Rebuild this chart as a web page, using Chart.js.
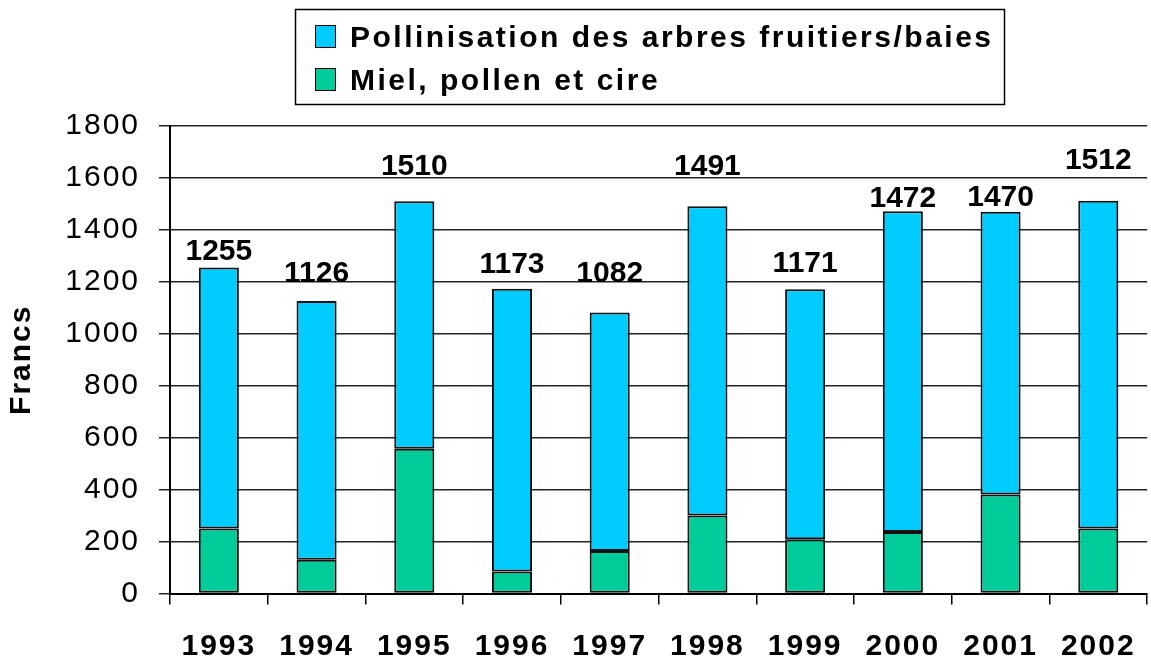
<!DOCTYPE html>
<html>
<head>
<meta charset="utf-8">
<script src="https://cdn.jsdelivr.net/npm/chart.js@4"></script>
<style>
  html, body { margin: 0; padding: 0; background: #fff; overflow: hidden; }
  #wrap { width: 1160px; height: 662px; }
</style>
</head>
<body>
<div id="wrap"><canvas id="chart" width="1160" height="662"></canvas></div>
<script>
// data
const years = ["1993", "1994", "1995", "1996", "1997", "1998", "1999", "2000", "2001", "2002"];
const miel = [250, 130, 557, 85, 164, 300, 209, 237, 381, 250];
const pollinisation = [1005, 996, 953, 1088, 918, 1191, 962, 1235, 1089, 1262];
const totals = [1255, 1126, 1510, 1173, 1082, 1491, 1171, 1472, 1470, 1512];
const yTicks = [0, 200, 400, 600, 800, 1000, 1200, 1400, 1600, 1800];

const FONT = "'Liberation Sans', Arial, sans-serif";

// total labels sit a little unevenly above the bars in the original
const labelNudge = [8, 19, 26, 16, 30, 31, 17, 4, 6, 32];

const spacingPlugin = {
  id: "spacing",
  beforeLayout(chart) { chart.ctx.letterSpacing = "2px"; },
  beforeDraw(chart) { chart.ctx.letterSpacing = "2px"; },
};

const totalsPlugin = {
  id: "totals",
  afterDatasetsDraw(chart) {
    const ctx = chart.ctx;
    const meta = chart.getDatasetMeta(1);
    ctx.save();
    ctx.letterSpacing = "0px";
    ctx.font = "bold 30px " + FONT;
    ctx.fillStyle = "#000";
    ctx.textAlign = "center";
    ctx.textBaseline = "alphabetic";
    meta.data.forEach((bar, i) => {
      ctx.fillText(String(totals[i]), bar.x, bar.y - labelNudge[i]);
    });
    ctx.restore();
  },
};

// boxed legend, blue series listed first
const boxLegendPlugin = {
  id: "boxLegend",
  afterDraw(chart) {
    const ctx = chart.ctx;
    const order = [1, 0];
    ctx.save();
    ctx.lineWidth = 1.5;
    ctx.strokeStyle = "#000";
    ctx.strokeRect(295.5, 9.5, 709, 95);
    ctx.font = "bold 30px " + FONT;
    ctx.letterSpacing = "2.5px";
    ctx.textBaseline = "alphabetic";
    ctx.textAlign = "left";
    order.forEach((di, row) => {
      const ds = chart.data.datasets[di];
      const top = 25 + row * 43;
      ctx.fillStyle = ds.backgroundColor;
      ctx.fillRect(315, top, 20, 22);
      ctx.lineWidth = 1;
      ctx.strokeRect(315.5, top + 0.5, 20, 22);
      ctx.fillStyle = "#000";
      ctx.fillText(ds.label, 350, top + 22);
    });
    ctx.restore();
  },
};

const ctx = document.getElementById("chart").getContext("2d");
const chart = new Chart(ctx, {
  type: "bar",
  data: {
    labels: years,
    datasets: [
      {
        label: "Miel, pollen et cire",
        data: miel,
        backgroundColor: "#00CC99",
        borderColor: "#111",
        borderWidth: 2,
        borderSkipped: false,
      },
      {
        label: "Pollinisation des arbres fruitiers/baies",
        data: pollinisation,
        backgroundColor: "#00CCFF",
        borderColor: "#111",
        borderWidth: 2,
        borderSkipped: false,
      },
    ],
  },
  options: {
    responsive: false,
    animation: false,
    devicePixelRatio: 1,
    layout: { padding: { top: 126, right: 7, bottom: 0, left: 0 } },
    datasets: {
      bar: { categoryPercentage: 1, barPercentage: 0.41 },
    },
    plugins: {
      legend: { display: false },
      tooltip: { enabled: false },
    },
    scales: {
      x: {
        stacked: true,
        offset: true,
        grid: {
          display: true,
          drawOnChartArea: false,
          drawTicks: true,
          tickLength: 11,
          color: "#000",
          lineWidth: 1.5,
        },
        border: { display: true, color: "#000", width: 2 },
        ticks: {
          color: "#000",
          padding: 24,
          maxRotation: 0,
          font: { family: FONT, size: 30, weight: "bold" },
        },
        afterFit(scale) { scale.height = 68.5; },
      },
      y: {
        stacked: true,
        min: 0,
        max: 1800,
        afterBuildTicks(scale) {
          scale.ticks = yTicks.map((v) => ({ value: v }));
        },
        grid: {
          color: "#222",
          lineWidth: 1.5,
          tickLength: 11,
        },
        border: { display: true, color: "#000", width: 2 },
        ticks: {
          color: "#000",
          padding: 19,
          font: { family: FONT, size: 30 },
          callback: (value) => String(value),
        },
        title: {
          display: true,
          text: "Francs",
          color: "#000",
          padding: { top: 4, bottom: 4 },
          font: { family: FONT, size: 30, weight: "bold" },
        },
        afterFit(scale) { scale.width = 170; },
      },
    },
  },
  plugins: [spacingPlugin, totalsPlugin, boxLegendPlugin],
});
</script>
</body>
</html>
